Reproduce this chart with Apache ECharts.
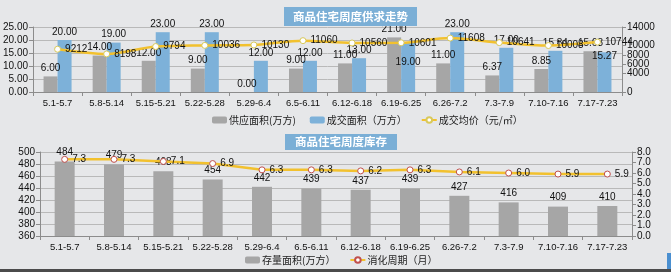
<!DOCTYPE html>
<html><head><meta charset="utf-8">
<script src="https://cdn.jsdelivr.net/npm/echarts@6/dist/echarts.min.js"></script>
<style>html,body{margin:0;padding:0;background:#E6E7E9;}#c{width:671px;height:272px;}</style>
</head><body><div id="c"></div>
<script>
var weeks = ['5.1-5.7','5.8-5.14','5.15-5.21','5.22-5.28','5.29-6.4','6.5-6.11','6.12-6.18','6.19-6.25','6.26-7.2','7.3-7.9','7.10-7.16','7.17-7.23'];
var supplyArea = [6, 14, 12, 9, 0, 9, 11, 21, 11, 6.37, 8.85, 15.68];
var dealArea = [20, 19, 23, 23, 12, 12, 13, 19, 23, 17, 15.84, 15.27];
var avgPrice = [9212, 8198, 9794, 10036, 10130, 11060, 10560, 10601, 11608, 10641, 10008, 10744];
var stockArea = [484, 479, 468, 454, 442, 439, 437, 439, 427, 416, 409, 410];
var digestCycle = [7.3, 7.3, 7.1, 6.9, 6.3, 6.3, 6.2, 6.3, 6.1, 6.0, 5.9, 5.9];
var title1 = '商品住宅周度供求走势';
var title2 = '商品住宅周度库存';

var FONT = '"Liberation Sans", "Noto Sans CJK SC", sans-serif';
var CJK = '"Noto Sans CJK SC", sans-serif';
var axisLineC = '#8C8C8C';
var gridC = '#B9B9B9';
var lblStyle = {fontFamily: FONT, fontSize: 10, color: '#111'};

function catAxis(gi) {
  return {type: 'category', gridIndex: gi, data: weeks,
    axisLine: {lineStyle: {color: axisLineC}},
    axisTick: {show: true, lineStyle: {color: axisLineC}, length: 4},
    axisLabel: {interval: 0, fontFamily: FONT, fontSize: 9.5, color: '#111', margin: 7, hideOverlap: false}};
}
function valAxis(gi, min, max, interval, dec, split, pos) {
  return {type: 'value', gridIndex: gi, min: min, max: max, interval: interval, position: pos,
    axisLine: {show: true, lineStyle: {color: axisLineC}},
    axisTick: {show: true, lineStyle: {color: axisLineC}, length: 4},
    splitLine: {show: split, lineStyle: {color: gridC, width: 1}},
    axisLabel: {fontFamily: FONT, fontSize: 10, color: '#111', margin: 5,
      showMinLabel: true, showMaxLabel: true, hideOverlap: false,
      formatter: function (v) { return dec >= 0 ? v.toFixed(dec) : String(v); }}};
}

var dealData = dealArea.map(function (v, i) {
  if (i === 7) return {value: v, label: {position: 'inside', offset: [0, -5]}};
  if (i === 11) return {value: v, label: {offset: [0, 12]}};
  return v;
});

var chart = echarts.init(document.getElementById('c'), null, {renderer: 'canvas'});
chart.setOption({
  backgroundColor: '#E6E7E9',
  animation: false,
  title: [
    {text: title1, left: 284, top: 7, backgroundColor: '#7BAFD6', padding: [3, 9, 3, 9],
      textStyle: {fontFamily: CJK, fontSize: 11.5, fontWeight: 'bold', color: '#fff', lineHeight: 13}},
    {text: title2, left: 285, top: 134, backgroundColor: '#7BAFD6', padding: [2, 10, 2, 10],
      textStyle: {fontFamily: CJK, fontSize: 11.5, fontWeight: 'bold', color: '#fff', lineHeight: 12}}
  ],
  legend: [
    {data: ['供应面积(万方)', '成交面积（万方）', '成交均价（元/㎡）'], left: 207, top: 110,
      itemWidth: 15, itemHeight: 7, itemGap: 14,
      textStyle: {fontFamily: CJK, fontSize: 10, color: '#222', padding: [0, 0, 0, -3]}},
    {data: ['存量面积(万方）', '消化周期（月）'], left: 240, top: 250,
      itemWidth: 15, itemHeight: 7, itemGap: 14,
      textStyle: {fontFamily: CJK, fontSize: 10, color: '#222', padding: [0, 0, 0, -3]}}
  ],
  grid: [
    {left: 33, right: 49, top: 27, height: 65},
    {left: 40, right: 39, top: 152, height: 84}
  ],
  xAxis: [catAxis(0), catAxis(1)],
  yAxis: [
    valAxis(0, 0, 25, 5, 2, true, 'left'),
    valAxis(0, 0, 14000, 2000, -1, false, 'right'),
    valAxis(1, 360, 500, 20, -1, true, 'left'),
    valAxis(1, 0, 8, 1, 1, false, 'right')
  ],
  graphic: [
    {type: 'rect', left: 0, top: 269, shape: {width: 671, height: 3}, style: {fill: '#4B4B4B'}},
    {type: 'rect', left: 667, top: 253, shape: {width: 4, height: 16}, style: {fill: '#4A8FD0'}}
  ],
  series: [
    {name: '供应面积(万方)', type: 'bar', xAxisIndex: 0, yAxisIndex: 0, data: supplyArea,
      barWidth: 14, barGap: '0%', itemStyle: {color: '#A6A6A6'},
      label: Object.assign({show: true, position: 'top', distance: 3,
        formatter: function (p) { return Number(p.value).toFixed(2); }}, lblStyle)},
    {name: '成交面积（万方）', type: 'bar', xAxisIndex: 0, yAxisIndex: 0, data: dealData,
      barWidth: 14, barGap: '0%', itemStyle: {color: '#7DB1D9'},
      label: Object.assign({show: true, position: 'top', distance: 3,
        formatter: function (p) { return Number(p.value).toFixed(2); }}, lblStyle)},
    {name: '成交均价（元/㎡）', type: 'line', xAxisIndex: 0, yAxisIndex: 1, data: avgPrice,
      smooth: 0.3, symbol: 'circle', symbolSize: 6,
      lineStyle: {color: '#F2C12E', width: 2.5},
      itemStyle: {color: '#FFFFFF', borderColor: '#D9C95A', borderWidth: 1},
      label: Object.assign({show: true, position: 'right', distance: 4}, lblStyle), z: 5},
    {name: '存量面积(万方）', type: 'bar', xAxisIndex: 1, yAxisIndex: 2, data: stockArea,
      barWidth: 20, itemStyle: {color: '#A6A6A6'},
      label: Object.assign({show: true, position: 'top', distance: 4}, lblStyle)},
    {name: '消化周期（月）', type: 'line', xAxisIndex: 1, yAxisIndex: 3, data: digestCycle,
      symbol: 'circle', symbolSize: 6,
      lineStyle: {color: '#F2C12E', width: 2.5},
      itemStyle: {color: '#FFFFFF', borderColor: '#C0504D', borderWidth: 1},
      label: Object.assign({show: true, position: 'right', distance: 4,
        formatter: function (p) { return Number(p.value).toFixed(1); }}, lblStyle), z: 5}
  ]
});
</script></body></html>
